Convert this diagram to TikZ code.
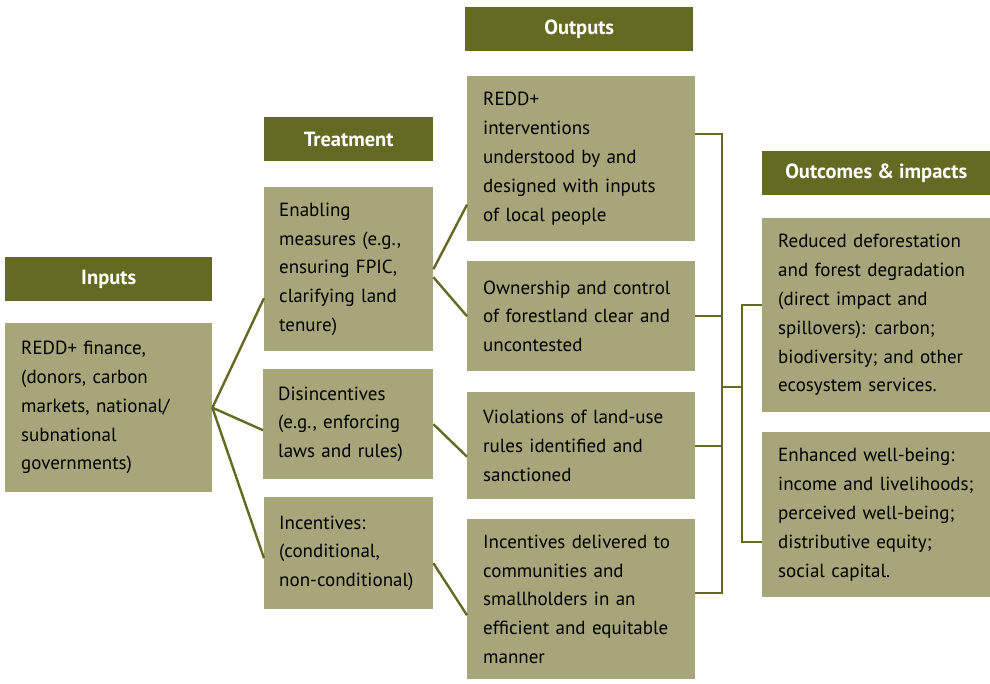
\documentclass[tikz,border=0pt]{standalone}
\usepackage{fontspec}
\setmainfont{PT Sans}
\usepackage{xcolor}
\usetikzlibrary{positioning}
\definecolor{olivedark}{HTML}{646A21}
\definecolor{olivebox}{HTML}{A7A67A}

\begin{document}
\begin{tikzpicture}[x=1pt,y=-1pt,
  head/.style={fill=olivedark,text=white,font=\bfseries\fontsize{20.5}{22}\selectfont,anchor=north west,inner sep=0,minimum height=44},
  box/.style={fill=olivebox,text=black,font=\fontsize{19}{28.8}\selectfont,align=left,anchor=north west,inner xsep=16,inner ysep=0},
  link/.style={draw=olivedark,line width=2.4}]
\useasboundingbox (0,0) rectangle (990,683);
% column headers
\node[head,minimum width=207] (hinp) at (5,257) {Inputs};
\node[head,minimum width=169] (htreat) at (264,117) {Treatment};
\node[head,minimum width=228] (hout) at (465,7) {Outputs};
\node[head,minimum width=228] (himp) at (762,151) {Outcomes \& impacts};
% inputs
\node[box,text width=175,minimum height=169] (inp) at (5,323) {REDD+ finance,\\(donors, carbon\\markets, national/\\subnational\\governments)};
% treatment
\node[box,text width=139,minimum height=164,inner xsep=15] (enab) at (264,187) {Enabling\\measures (e.g.,\\ensuring FPIC,\\clarifying land\\tenure)};
\node[box,text width=140,minimum height=110,inner xsep=15] (disinc) at (263,369) {Disincentives\\(e.g., enforcing\\laws and rules)};
\node[box,text width=139,minimum height=112,inner xsep=15] (incent) at (264,497) {Incentives:\\(conditional,\\non-conditional)};
% outputs
\node[box,text width=196,minimum height=165] (out1) at (467,76) {REDD+\\interventions\\understood by and\\designed with inputs\\of local people};
\node[box,text width=196,minimum height=110] (out2) at (467,261) {Ownership and control\\of forestland clear and\\uncontested};
\node[box,text width=196,minimum height=107] (out3) at (467,392) {Violations of land-use\\rules identified and\\sanctioned};
\node[box,text width=196,minimum height=160] (out4) at (467,519) {Incentives delivered to\\communities and\\smallholders in an\\efficient and equitable\\manner};
% outcomes
\node[box,text width=196,minimum height=194] (oc1) at (762,218) {Reduced deforestation\\and forest degradation\\(direct impact and\\spillovers): carbon;\\biodiversity; and other\\ecosystem services.};
\node[box,text width=196,minimum height=165] (oc2) at (762,432) {Enhanced well-being:\\income and livelihoods;\\perceived well-being;\\distributive equity;\\social capital.};
\coordinate (bus) at (722,387);
\coordinate (bus2) at (742,387);
% links
\draw[link] (inp.east) -- ([yshift=-29pt]enab.west);
\draw[link] (inp.east) -- ([yshift=-6pt]disinc.west);
\draw[link] (inp.east) -- ([yshift=-5pt]incent.west);
\draw[link] (enab.east) -- ([yshift=-46pt]out1.west);
\draw[link] ([yshift=-8pt]enab.east) -- (out2.west);
\draw[link] (disinc.east) -- ([yshift=-11pt]out3.west);
\draw[link] ([yshift=-10pt]incent.east) -- ([yshift=-16pt]out4.west);
\draw[link] ([yshift=25pt]out1.east) -| (bus);
\draw[link] (out2.east) -| (bus);
\draw[link] (out3.east) -| (bus);
\draw[link] ([yshift=6pt]out4.east) -| (bus);
\draw[link] (bus) -- (bus2);
\draw[link] ([yshift=10pt]oc1.west) -| (bus2);
\draw[link] ([yshift=-27pt]oc2.west) -| (bus2);
\end{tikzpicture}
\end{document}
